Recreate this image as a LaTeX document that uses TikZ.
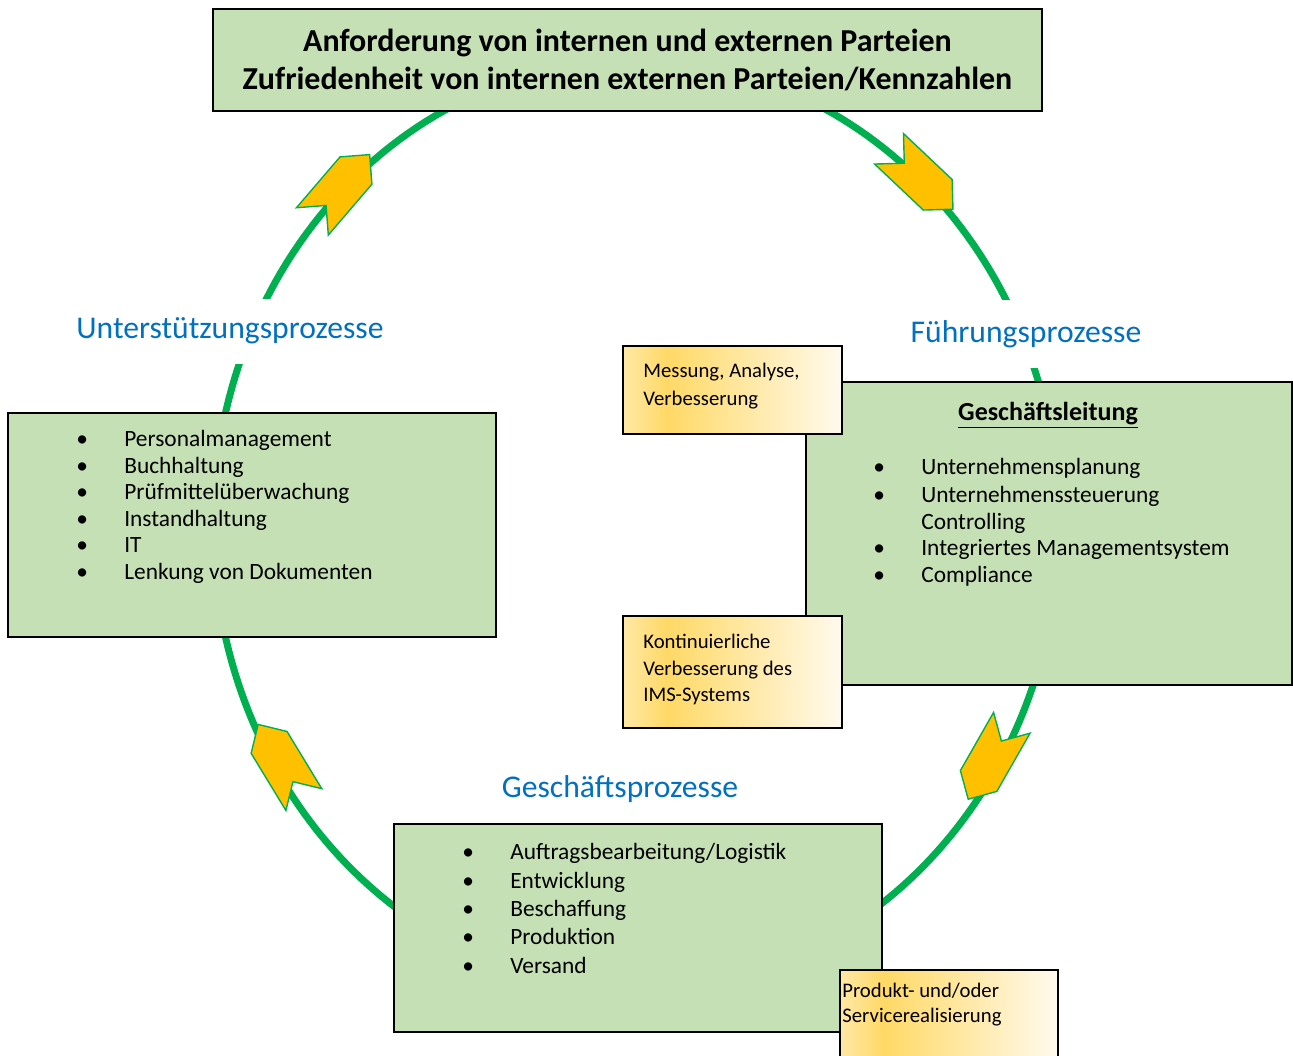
\documentclass[tikz,border=0pt]{standalone}
\usepackage{fontspec}
\setmainfont{Carlito}
\usetikzlibrary{shapes.symbols, positioning}

\definecolor{boxgreen}{HTML}{C5E0B4}
\definecolor{ringgreen}{HTML}{00B050}
\definecolor{arrowgold}{HTML}{FFC000}
\definecolor{phaseblue}{HTML}{0070C0}
\definecolor{notelight}{HTML}{FFE8A6}
\definecolor{notegold}{HTML}{FFD966}
\definecolor{notepale}{HTML}{FFFAEE}

\pgfdeclarehorizontalshading{notefade}{100bp}{color(0bp)=(notelight); color(25bp)=(notelight); color(35bp)=(notegold); color(75bp)=(notepale); color(100bp)=(notepale)}

\newcommand{\blt}{\makebox[0.96cm][l]{\textbullet}}

\begin{document}
\begin{tikzpicture}[x=0.02cm, y=-0.02cm]

\tikzstyle{ring}=[line width=4pt, draw=ringgreen]
\tikzstyle{procbox}=[draw=black, fill=boxgreen, line width=0.7pt, inner sep=0pt]
\tikzstyle{notebox}=[draw=black, shading=notefade, line width=0.7pt, inner sep=0pt]
\tikzstyle{flow}=[signal, signal to=east, signal from=west, fill=arrowgold, draw=ringgreen, line width=0.8pt, minimum width=1.76cm, minimum height=0.84cm, inner sep=0pt]
\tikzstyle{phase}=[fill=white, text=phaseblue, font=\fontsize{18}{21}\selectfont, inner xsep=2pt]
\tikzstyle{items}=[align=left, anchor=north west, inner sep=0pt, font=\fontsize{13.3}{15.1}\selectfont]
\tikzstyle{notes}=[align=left, anchor=north west, inner sep=0pt, font=\fontsize{11.8}{15.9}\selectfont]

\useasboundingbox (0,0) rectangle (1293,1055);

% the cycle
\draw[ring] plot[domain=190:246, samples=40] ({636+423*cos(\x)}, {525+465*sin(\x)});
\draw[ring] plot[domain=-66:-15, samples=40] ({636+423*cos(\x)}, {525+465*sin(\x)});
\draw[ring] plot[domain=17:57, samples=40] ({636+423*cos(\x)}, {525+465*sin(\x)});
\draw[ring] plot[domain=122:170, samples=40] ({636+423*cos(\x)}, {525+465*sin(\x)});

\node[flow, rotate=49.4] (flow-up) at (341,188) {};
\node[flow, rotate=-43.4] (flow-right) at (921,179) {};
\node[flow, rotate=-119.7] (flow-down) at (990,761) {};
\node[flow, rotate=121.3] (flow-left) at (281,762) {};

% boxes
\node[procbox, minimum width=16.58cm, minimum height=2.04cm, align=center,
      font=\bfseries\fontsize{18.2}{21.8}\selectfont] (goals) at (627.5,60)
  {Anforderung von internen und externen Parteien\\Zufriedenheit von internen externen Parteien/Kennzahlen};

\node[procbox, minimum width=9.76cm, minimum height=4.48cm] (support) at (252,525) {};
\node[items] (support-list) at (76,430) {\blt Personalmanagement\\\blt Buchhaltung\\\blt Prüfmittelüberwachung\\\blt Instandhaltung\\\blt IT\\\blt Lenkung von Dokumenten};

\node[procbox, minimum width=9.76cm, minimum height=4.16cm] (core) at (638,928) {};
\node[items, font=\fontsize{13.3}{16.2}\selectfont] (core-list) at (462,843) {\blt Auftragsbearbeitung/Logistik\\\blt Entwicklung\\\blt Beschaffung\\\blt Produktion\\\blt Versand};

\node[procbox, minimum width=9.72cm, minimum height=6.06cm] (lead) at (1049,533.5) {};
\node[font=\bfseries\fontsize{14.8}{17}\selectfont] (lead-head) at (1048,415) {\underline{Geschäftsleitung}};
\node[items] (lead-list) at (873,458) {\blt Unternehmensplanung\\[0.8pt]\blt Unternehmenssteuerung\\\hspace{0.96cm}Controlling\\\blt Integriertes Managementsystem\\\blt Compliance};

% notes
\node[notebox, minimum width=4.38cm, minimum height=1.76cm] (note-measure) at (732.5,390) {};
\node[notes] (note-measure-txt) at (643,363) {Messung, Analyse,\\Verbesserung};
\node[notebox, minimum width=4.38cm, minimum height=2.24cm] (note-improve) at (732.5,672) {};
\node[notes, font=\fontsize{11.8}{15}\selectfont] (note-improve-txt) at (643,634) {Kontinuierliche\\Verbesserung des\\IMS-Systems};
\node[notebox, minimum width=4.36cm, minimum height=2.0cm] (note-product) at (949,1020) {};
\node[notes, font=\fontsize{11.8}{14.2}\selectfont] (note-product-txt) at (842,983) {Produkt- und/oder\\Servicerealisierung};

% process labels
\node[phase, minimum height=1.3cm] (support-label) at (230,331) {Unterstützungsprozesse};
\node[phase, minimum height=1.36cm] (lead-label) at (1026,334) {Führungsprozesse};
\node[phase] (core-label) at (620,789) {Geschäftsprozesse};

\end{tikzpicture}
\end{document}
